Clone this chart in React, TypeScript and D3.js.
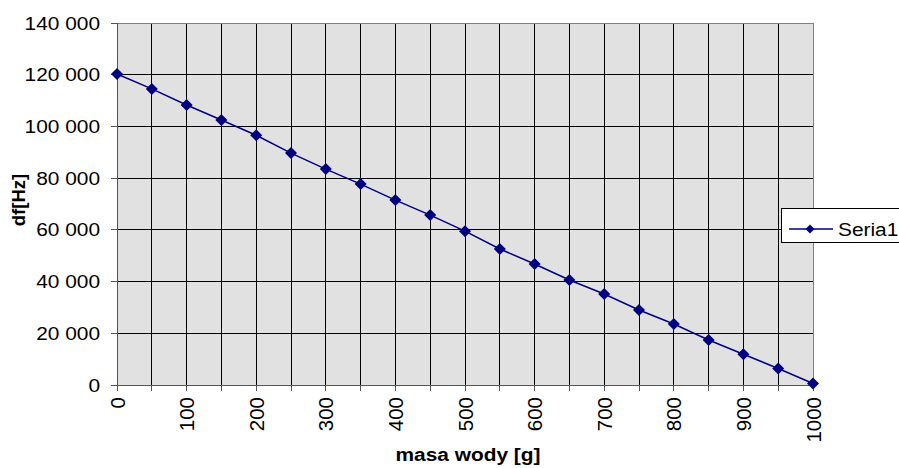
import React from 'react';
import * as d3 from 'd3';

// masa wody [g] vs df[Hz]
const masses = [0, 50, 100, 150, 200, 250, 300, 350, 400, 450, 500, 550, 600, 650, 700, 750, 800, 850, 900, 950, 1000];
const dfValues = [120300, 114500, 108300, 102500, 96600, 89700, 83500, 77700, 71500, 65700, 59500, 52600, 46800, 40600, 35200, 29000, 23600, 17400, 11900, 6400, 600];
const xTicks = [0, 100, 200, 300, 400, 500, 600, 700, 800, 900, 1000];
const xGrid = d3.range(0, 1001, 50);
const yTicks = [0, 20000, 40000, 60000, 80000, 100000, 120000, 140000];
const seriesName = 'Seria1';

const W = 899;
const H = 468;
const m = { left: 117, right: 813, top: 23, bottom: 385 };
const font = 'Arial, "Liberation Sans", sans-serif';

const fmt = (v: number) => d3.format(',')(v).replace(/,/g, ' ');

const diamond = (cx: number, cy: number, r = 6) =>
  `M${cx},${cy - r}L${cx + r},${cy}L${cx},${cy + r}L${cx - r},${cy}Z`;

const App: React.FC = () => {
  const x = d3.scaleLinear().domain([0, 1000]).range([m.left, m.right]);
  const y = d3.scaleLinear().domain([0, 140000]).range([m.bottom, m.top]);

  const line = d3.line<number>()
    .x((_, i) => x(masses[i]))
    .y(d => y(d));

  return (
    <svg width={W} height={H} style={{ position: 'absolute', left: 0, top: 0, background: '#fff' }} fontFamily={font}>
      {/* plot background */}
      <rect x={m.left} y={m.top} width={m.right - m.left} height={m.bottom - m.top} fill="#e1e1e1" />

      {/* grid */}
      {xGrid.map(v => (
        <line key={'gx' + v} x1={x(v)} x2={x(v)} y1={m.top} y2={m.bottom} stroke="#000" strokeWidth={1} shapeRendering="crispEdges" />
      ))}
      {yTicks.map(v => (
        <line key={'gy' + v} x1={m.left} x2={m.right} y1={y(v)} y2={y(v)} stroke="#000" strokeWidth={1} shapeRendering="crispEdges" />
      ))}
      <rect x={m.left} y={m.top} width={m.right - m.left} height={m.bottom - m.top} fill="none" stroke="#808080" strokeWidth={1} shapeRendering="crispEdges" />

      {/* axes */}
      <line x1={m.left} x2={m.left} y1={m.top} y2={m.bottom} stroke="#555" shapeRendering="crispEdges" />
      <line x1={m.left} x2={m.right} y1={m.bottom} y2={m.bottom} stroke="#555" shapeRendering="crispEdges" />
      {yTicks.map(v => (
        <g key={'yt' + v}>
          <line x1={m.left - 6} x2={m.left} y1={y(v)} y2={y(v)} stroke="#555" shapeRendering="crispEdges" />
          <text transform={`translate(${100},${y(v) + 6.5}) scale(1.16,1)`} textAnchor="end" fontSize={18} fill="#000">{fmt(v)}</text>
        </g>
      ))}
      {xGrid.map(v => (
        <line key={'xt' + v} x1={x(v)} x2={x(v)} y1={m.bottom} y2={m.bottom + 6} stroke="#555" shapeRendering="crispEdges" />
      ))}
      {xTicks.map(v => (
        <text key={'xl' + v} transform={`translate(${x(v) + 7.5},${397}) rotate(-90)`} textAnchor="end" fontSize={20.5} fill="#000">{v}</text>
      ))}

      {/* axis titles */}
      <text transform={`translate(${25},${200}) rotate(-90)`} textAnchor="middle" fontSize={18.5} fontWeight="bold" fill="#000">df[Hz]</text>
      <text transform={`translate(${468},${461}) scale(1.16,1)`} textAnchor="middle" fontSize={18} fontWeight="bold" fill="#000">masa wody [g]</text>

      {/* series */}
      <path d={line(dfValues) || ''} fill="none" stroke="#000080" strokeWidth={1.5} />
      {dfValues.map((v, i) => (
        <path key={'pt' + i} d={diamond(x(masses[i]), y(v))} fill="#000080" />
      ))}

      {/* legend */}
      <rect x={781.5} y={208.5} width={130} height={34} fill="#fff" stroke="#000" strokeWidth={1} />
      <line x1={789} x2={833} y1={229} y2={229} stroke="#000080" strokeWidth={1.5} />
      <path d={diamond(810, 229, 4.5)} fill="#000080" />
      <text transform={`translate(${838},${235.5}) scale(1.16,1)`} fontSize={18} fill="#000">{seriesName}</text>
    </svg>
  );
};

export default App;
